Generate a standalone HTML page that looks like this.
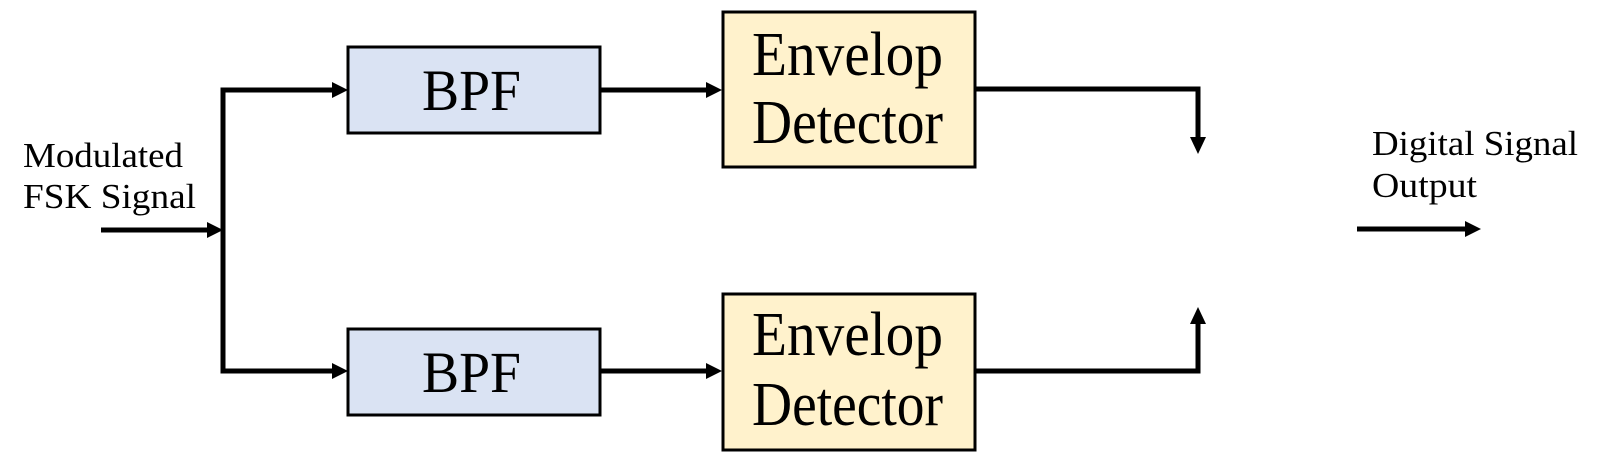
<!DOCTYPE html>
<html><head><meta charset="utf-8"><style>
html,body{margin:0;padding:0;background:#fff;}
svg{display:block;}
text{font-family:"Liberation Serif",serif;fill:#000;}
</style></head><body>
<svg width="1614" height="476" viewBox="0 0 1614 476" xmlns="http://www.w3.org/2000/svg">
<g stroke="#000" stroke-width="5" fill="none">
<polyline points="101,230 210,230"/>
<polyline points="336,90 223,90 223,371 336,371"/>
<line x1="600" y1="90" x2="710" y2="90"/>
<line x1="600" y1="371" x2="710" y2="371"/>
<polyline points="975,89 1198,89 1198,140"/>
<polyline points="975,371 1198,371 1198,320"/>
<line x1="1357" y1="229" x2="1466" y2="229"/>
</g>
<g fill="#000">
<polygon points="223,230 207,222 207,238"/>
<polygon points="348,90 332,82 332,98"/>
<polygon points="348,371 332,363 332,379"/>
<polygon points="722,90 706,82 706,98"/>
<polygon points="722,371 706,363 706,379"/>
<polygon points="1198,154 1190,137 1206,137"/>
<polygon points="1198,307 1190,324 1206,324"/>
<polygon points="1481,229 1465,221 1465,237"/>
</g>
<g stroke="#000" stroke-width="3">
<rect x="348" y="47" width="252" height="86" fill="#dae3f3"/>
<rect x="348" y="329" width="252" height="86" fill="#dae3f3"/>
<rect x="723" y="12" width="252" height="155" fill="#fff2cc"/>
<rect x="723" y="294" width="252" height="156" fill="#fff2cc"/>
</g>
<text x="422" y="110" font-size="58" textLength="99" lengthAdjust="spacingAndGlyphs">BPF</text>
<text x="422" y="392" font-size="58" textLength="99" lengthAdjust="spacingAndGlyphs">BPF</text>
<text x="752" y="75" font-size="62" textLength="191" lengthAdjust="spacingAndGlyphs">Envelop</text>
<text x="752" y="143" font-size="62" textLength="191" lengthAdjust="spacingAndGlyphs">Detector</text>
<text x="752" y="355" font-size="62" textLength="191" lengthAdjust="spacingAndGlyphs">Envelop</text>
<text x="752" y="425" font-size="62" textLength="191" lengthAdjust="spacingAndGlyphs">Detector</text>
<text x="23" y="167" font-size="35" textLength="160" lengthAdjust="spacingAndGlyphs">Modulated</text>
<text x="23" y="208" font-size="35" textLength="173" lengthAdjust="spacingAndGlyphs">FSK Signal</text>
<text x="1372" y="155" font-size="35" textLength="206" lengthAdjust="spacingAndGlyphs">Digital Signal</text>
<text x="1372" y="197" font-size="35" textLength="105" lengthAdjust="spacingAndGlyphs">Output</text>
</svg>
</body></html>
